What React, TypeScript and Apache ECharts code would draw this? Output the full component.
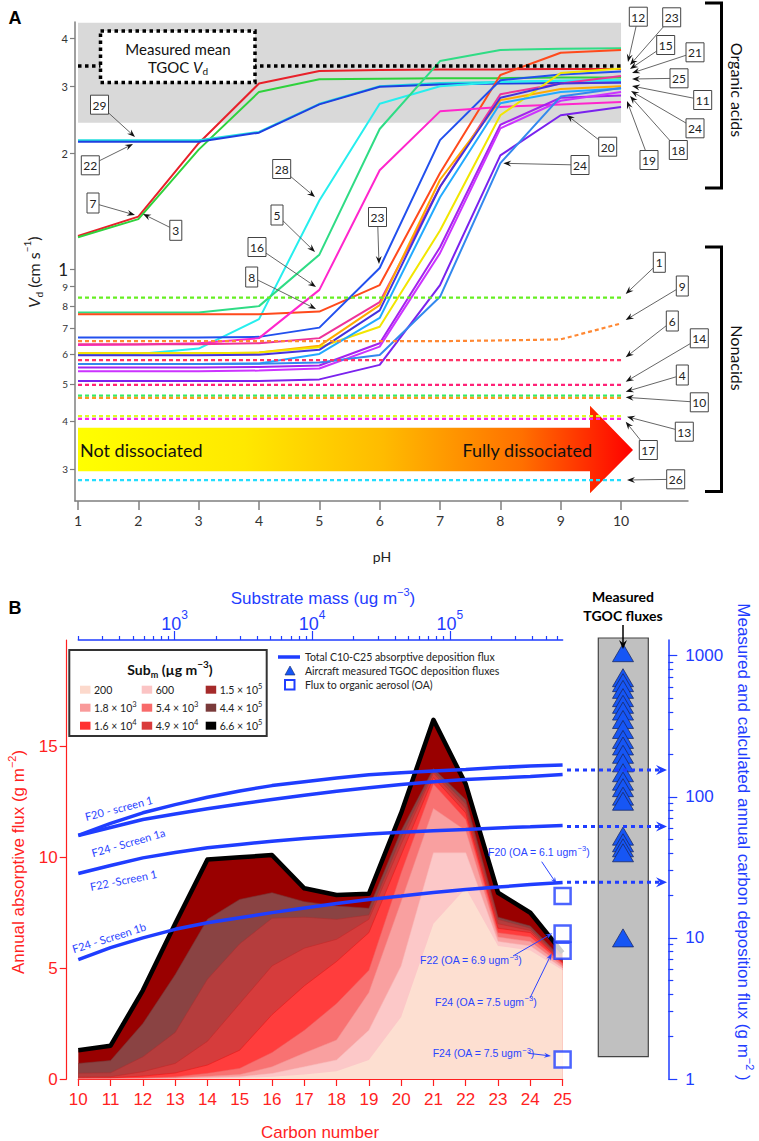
import React, { useEffect, useRef } from "react";
import * as echarts from "echarts";

const L10 = (v: number) => Math.log10(v);

// ================= Panel A data (Vd, cm s-1, at pH 1..10) =================
const pH = [1, 2, 3, 4, 5, 6, 7, 8, 9, 10];
const acid7 = [1.22, 1.37, 2.13, 3.05, 3.29, 3.31, 3.32, 3.32, 3.33, 3.33];
const acid3 = [1.21, 1.35, 2.05, 2.9, 3.13, 3.14, 3.15, 3.15, 3.16, 3.16];
const acid22 = [2.15, 2.15, 2.15, 2.27, 2.69, 2.99, 3.03, 3.05, 3.06, 3.07];
const acid29 = [2.17, 2.17, 2.17, 2.28, 2.7, 3.0, 3.06, 3.08, 3.1, 3.11];
const acid28 = [0.6, 0.6, 0.62, 0.74, 1.51, 2.7, 3.0, 3.08, 3.1, 3.11];
const acid5 = [0.77, 0.77, 0.77, 0.8, 1.09, 2.32, 3.49, 3.73, 3.76, 3.77];
const acid8 = [0.762, 0.762, 0.762, 0.762, 0.774, 0.908, 1.78, 3.21, 3.67, 3.73];
const acid23 = [0.662, 0.662, 0.662, 0.665, 0.703, 1.006, 2.17, 3.11, 3.22, 3.28];
const acid16 = [0.633, 0.635, 0.64, 0.66, 0.882, 1.81, 2.58, 2.65, 2.69, 2.73];
const acid11 = [0.636, 0.636, 0.636, 0.64, 0.66, 0.82, 1.64, 2.86, 3.05, 3.19];
const acid12 = [0.603, 0.603, 0.603, 0.605, 0.63, 0.805, 1.71, 2.76, 2.95, 3.0];
const acid15 = [0.603, 0.603, 0.603, 0.605, 0.625, 0.707, 1.26, 2.52, 3.25, 3.34];
const acid21 = [0.595, 0.595, 0.595, 0.597, 0.615, 0.78, 1.64, 2.8, 3.05, 3.07];
const acid25 = [0.565, 0.565, 0.565, 0.567, 0.6, 0.745, 1.54, 2.71, 2.9, 2.96];
const acid18 = [0.553, 0.553, 0.553, 0.555, 0.56, 0.64, 1.14, 2.38, 2.8, 2.84];
const acid19 = [0.541, 0.541, 0.541, 0.543, 0.55, 0.627, 1.1, 2.33, 2.75, 2.9];
const acid20 = [0.51, 0.51, 0.51, 0.51, 0.515, 0.562, 0.908, 1.98, 2.52, 2.65];
const acid24 = [0.565, 0.565, 0.565, 0.566, 0.57, 0.596, 0.846, 1.89, 2.82, 2.97];

const acidLines = [
  { id: "7", color: "#e8202a", v: acid7 },
  { id: "3", color: "#2fd23c", v: acid3 },
  { id: "29", color: "#22dede", v: acid29 },
  { id: "22", color: "#1f3fe0", v: acid22 },
  { id: "28", color: "#26eeee", v: acid28 },
  { id: "5", color: "#2fdc85", v: acid5 },
  { id: "8", color: "#ff4a1c", v: acid8 },
  { id: "23", color: "#2250ee", v: acid23 },
  { id: "16", color: "#ff26cc", v: acid16 },
  { id: "11", color: "#ee3399", v: acid11 },
  { id: "12", color: "#ffaa00", v: acid12 },
  { id: "15", color: "#f2e600", v: acid15 },
  { id: "21", color: "#4433dd", v: acid21 },
  { id: "25", color: "#22aaff", v: acid25 },
  { id: "18", color: "#a522ee", v: acid18 },
  { id: "19", color: "#cc33ff", v: acid19 },
  { id: "20", color: "#7a22ee", v: acid20 },
  { id: "24", color: "#3388ee", v: acid24 },
];

// Nonacids (dashed); flat levels, except compound 9
const nonacid9 = [0.648, 0.648, 0.648, 0.648, 0.648, 0.648, 0.648, 0.651, 0.655, 0.721];
const nonacidLevels = [
  { id: "1", color: "#66ee22", level: 0.842 },
  { id: "6", color: "#ff3366", level: 0.578 },
  { id: "14", color: "#ff2277", level: 0.498 },
  { id: "4", color: "#33ee66", level: 0.467 },
  { id: "10", color: "#ff9922", level: 0.461 },
  { id: "13", color: "#ddff22", level: 0.413 },
  { id: "17", color: "#ff22ee", level: 0.406 },
  { id: "26", color: "#22ddff", level: 0.281 },
];
const measuredMeanVd = 3.39;
const measuredBandLow = 2.41;
const topYTicks = [0.3, 0.4, 0.5, 0.6, 0.7, 0.8, 0.9, 1, 2, 3, 4];

// ================= Panel B data =================
const carbon = [10, 11, 12, 13, 14, 15, 16, 17, 18, 19, 20, 21, 22, 23, 24, 25];
const sub6_6e5 = [1.3, 1.5, 4.0, 7.0, 9.9, 10.0, 10.1, 8.6, 8.3, 8.35, 12.0, 16.2, 13.3, 8.4, 7.5, 5.7];
const sub4_4e5 = [0.7, 0.83, 2.5, 4.7, 7.2, 8.1, 8.4, 8.0, 7.8, 7.7, 11.2, 14.0, 12.6, 7.3, 6.9, 5.4];
const sub1_5e5 = [0.26, 0.28, 1.0, 2.1, 4.5, 6.1, 7.25, 7.3, 7.2, 7.4, 10.9, 13.9, 12.4, 7.2, 6.8, 5.35];
const sub4_9e4 = [0.08, 0.1, 0.33, 0.7, 1.7, 3.4, 5.1, 5.9, 6.3, 7.2, 10.6, 13.8, 12.2, 7.0, 6.7, 5.3];
const sub1_6e4 = [0.03, 0.05, 0.13, 0.27, 0.63, 1.3, 2.9, 4.2, 5.3, 6.6, 10.1, 13.6, 12.0, 6.8, 6.6, 5.25];
const sub5_4e3 = [0.01, 0.02, 0.05, 0.1, 0.26, 0.48, 1.2, 2.2, 3.4, 4.9, 9.3, 13.3, 11.7, 6.6, 6.4, 5.2];
const sub1_8e3 = [0, 0.01, 0.02, 0.05, 0.12, 0.2, 0.55, 1.17, 1.76, 3.9, 8.0, 12.2, 11.2, 6.4, 6.2, 5.1];
const sub600 = [0, 0, 0.01, 0.02, 0.06, 0.1, 0.25, 0.55, 0.86, 2.2, 5.1, 10.2, 10.2, 6.2, 6.0, 5.0];
const sub200 = [0, 0, 0, 0.01, 0.02, 0.05, 0.1, 0.2, 0.35, 0.86, 2.8, 7.0, 8.6, 6.0, 5.8, 4.9];

// largest first (drawn underneath)
const subSeries = [
  { label: "6.6 × 10", exp: "5", fill: "#990000", swatch: "#000000", line: "#000000", lw: 4.5, v: sub6_6e5 },
  { label: "4.4 × 10", exp: "5", fill: "#8a4343", swatch: "#7a3a3a", line: "#7a3535", lw: 0.6, v: sub4_4e5 },
  { label: "1.5 × 10", exp: "5", fill: "#b53d3d", swatch: "#a52a2a", line: "#a83030", lw: 0.6, v: sub1_5e5 },
  { label: "4.9 × 10", exp: "4", fill: "#d63c3c", swatch: "#d93a3a", line: "#c42828", lw: 0.6, v: sub4_9e4 },
  { label: "1.6 × 10", exp: "4", fill: "#ff3d3d", swatch: "#ff3030", line: "#e81a1a", lw: 0.6, v: sub1_6e4 },
  { label: "5.4 × 10", exp: "3", fill: "#f87272", swatch: "#f86a6a", line: "#f05a5a", lw: 0.5, v: sub5_4e3 },
  { label: "1.8 × 10", exp: "3", fill: "#f9a0a0", swatch: "#f99a9a", line: "#f49090", lw: 0.5, v: sub1_8e3 },
  { label: "600", exp: "", fill: "#fcc8c8", swatch: "#fbc4c4", line: "#f8bcbc", lw: 0.5, v: sub600 },
  { label: "200", exp: "", fill: "#fddfd1", swatch: "#fcd9cc", line: "#fddfd1", lw: 0, v: sub200 },
];

// cumulative absorptive deposition flux (g m-2, right log axis)
const f20Screen1 = [53.2, 64.7, 77, 88, 99.3, 110, 120, 128, 136, 143, 148, 152, 156, 161, 165, 168];
const f24Screen1a = [53.2, 60.6, 69, 75.5, 82.2, 88.9, 95.7, 102.5, 109.6, 115.8, 122, 127.7, 132.6, 136, 139.3, 144];
const f22Screen1 = [28.6, 32.6, 36.9, 40.3, 43.5, 45.9, 48.4, 50.6, 52.6, 54.5, 56.1, 57.4, 58.7, 60.1, 61.3, 62.6];
const f24Screen1b = [7.02, 8.54, 10, 11.5, 12.8, 13.9, 15.1, 16.3, 17.5, 18.7, 19.8, 21, 22, 22.9, 23.9, 24.7];
const fluxLines = [f20Screen1, f24Screen1a, f22Screen1, f24Screen1b];
const fluxArrowLevels = [155, 61.5, 24.8];

// flux to organic aerosol (left axis) at C25
const oaFlux = [8.25, 6.56, 5.78, 0.88];
// aircraft measured TGOC deposition fluxes (right axis)
const tgocFlux = [1050, 698, 644, 577, 504, 452, 405, 353, 300, 255, 229, 200, 174, 148, 129, 116, 101, 93, 52.6, 47.2, 43.5, 40.1, 10];

const massMinor = [200, 300, 400, 500, 600, 700, 800, 900, 2000, 3000, 4000, 5000, 6000, 7000, 8000, 9000,
  20000, 30000, 40000, 50000, 60000, 70000, 80000, 90000, 200000, 300000, 400000, 500000, 600000];
const massMajor = [1000, 10000, 100000];
const rightMinor = [2, 3, 4, 5, 6, 7, 8, 9, 20, 30, 40, 50, 60, 70, 80, 90, 200, 300, 400, 500, 600, 700, 800, 900];
const rightMajor = [1, 10, 100, 1000];

const RED = "#ff1f1f";
const BLUE = "#1f3dff";
const TXTBLUE = "#2a44ff";
const LATO = "Lato, 'Open Sans', sans-serif";
const ARIAL = "'Liberation Sans', Arial, sans-serif";

const topYMin = -0.6057;
const topYMax = 0.6449;
const rightMax = 3.111;

function buildOption(): any {
  const series: any[] = [];
  // ---- Panel A ----
  series.push({
    type: "line", xAxisIndex: 0, yAxisIndex: 0, z: 6, symbol: "none", silent: true,
    data: [[1, L10(measuredMeanVd)], [10, L10(measuredMeanVd)]],
    lineStyle: { color: "#000", width: 3.5, type: [3.5, 3.5] },
  });
  acidLines.forEach((a) => {
    series.push({
      type: "line", xAxisIndex: 0, yAxisIndex: 0, symbol: "none", silent: true, name: a.id,
      data: pH.map((p, i) => [p, L10(a.v[i])]),
      lineStyle: { color: a.color, width: 2 },
    });
  });
  series.push({
    type: "line", xAxisIndex: 0, yAxisIndex: 0, symbol: "none", silent: true,
    data: pH.map((p, i) => [p, L10(nonacid9[i])]),
    lineStyle: { color: "#ff8833", width: 2.2, type: [4, 3] },
  });
  nonacidLevels.forEach((n) => {
    series.push({
      type: "line", xAxisIndex: 0, yAxisIndex: 0, symbol: "none", silent: true,
      data: [[pH[0], L10(n.level)], [pH[pH.length - 1], L10(n.level)]],
      lineStyle: { color: n.color, width: 2.2, type: [4, 3] },
    });
  });
  // ---- Panel B ----
  subSeries.forEach((s) => {
    series.push({
      type: "line", xAxisIndex: 1, yAxisIndex: 1, symbol: "none", silent: true,
      data: carbon.map((c, i) => [c, s.v[i]]),
      lineStyle: { color: s.line, width: s.lw, join: "round" },
      areaStyle: { color: s.fill, opacity: 1 },
    });
  });
  fluxLines.forEach((f) => {
    series.push({
      type: "line", xAxisIndex: 1, yAxisIndex: 2, symbol: "none", silent: true, z: 4,
      data: carbon.map((c, i) => [c, L10(f[i])]),
      lineStyle: { color: BLUE, width: 3.5 },
    });
  });
  series.push({
    type: "scatter", xAxisIndex: 1, yAxisIndex: 1, z: 7, symbol: "rect", symbolSize: 16, silent: true,
    data: oaFlux.map((v) => [25, v]),
    itemStyle: { color: "#ffffff", borderColor: BLUE, borderWidth: 2.5 },
  });
  series.push({
    type: "scatter", xAxisIndex: 4, yAxisIndex: 4, z: 7, symbol: "triangle", symbolSize: [21, 18], silent: true,
    data: tgocFlux.map((v) => [0.5, L10(v)]),
    itemStyle: { color: "#1656f5", borderColor: "#1a2a66", borderWidth: 0.8, opacity: 1 },
  });

  const noSplit = { show: false };
  return {
    animation: false,
    backgroundColor: "#ffffff",
    grid: [
      { left: 75, top: 22, width: 613, height: 479, outerBoundsMode: "none" },
      { left: 78.3, top: 640, width: 484.3, height: 439, outerBoundsMode: "none" },
      { left: 78.3, top: 640, width: 484.3, height: 439, outerBoundsMode: "none" },
      { left: 598, top: 640, width: 50, height: 439, outerBoundsMode: "none" },
    ],
    xAxis: [
      {
        gridIndex: 0, type: "value", min: 0.95, max: 11.11,
        axisLine: { show: true, onZero: false, lineStyle: { color: "#7f7f7f", width: 1.5 } },
        axisTick: { customValues: pH, length: 9, lineStyle: { color: "#7f7f7f", width: 1.5 } },
        axisLabel: { customValues: pH, fontSize: 14, color: "#333", fontFamily: LATO, margin: 12 },
        splitLine: noSplit,
      },
      {
        gridIndex: 1, type: "value", min: 10, max: 25, interval: 1, position: "bottom",
        axisLine: { onZero: false, lineStyle: { color: RED, width: 1.2 } },
        axisTick: { length: 7, lineStyle: { color: RED, width: 1.2 } },
        axisLabel: { color: RED, fontSize: 17, fontFamily: ARIAL, margin: 12 },
        splitLine: noSplit,
      },
      {
        gridIndex: 1, type: "value", position: "top", min: L10(200), max: L10(660000),
        axisLine: { onZero: false, lineStyle: { color: BLUE, width: 1.5 } },
        axisTick: { customValues: massMinor.map(L10), length: 4, lineStyle: { color: BLUE, width: 1.2 } },
        axisLabel: { show: false },
        splitLine: noSplit,
      },
      {
        gridIndex: 2, type: "value", position: "top", min: L10(200), max: L10(660000),
        axisLine: { show: false, onZero: false },
        axisTick: { customValues: massMajor.map(L10), length: 9, lineStyle: { color: BLUE, width: 1.2 } },
        axisLabel: {
          customValues: massMajor.map(L10), margin: 7,
          formatter: (v: number) => `{b|10}{s|${Math.round(v)}}`,
          rich: {
            b: { fontSize: 18, color: BLUE, fontFamily: ARIAL, lineHeight: 24, verticalAlign: "bottom" },
            s: { fontSize: 12, color: BLUE, fontFamily: ARIAL, lineHeight: 12, verticalAlign: "top" },
          },
        },
        splitLine: noSplit,
      },
      { gridIndex: 3, type: "value", min: 0, max: 1, show: false, axisLine: { onZero: false }, splitLine: noSplit },
    ],
    yAxis: [
      {
        gridIndex: 0, type: "value", min: topYMin, max: topYMax,
        axisLine: { show: true, onZero: false, lineStyle: { color: "#7f7f7f", width: 1.5 } },
        axisTick: { show: true, customValues: topYTicks.map(L10), length: 5, lineStyle: { color: "#7f7f7f", width: 1.2 } },
        axisLabel: {
          customValues: topYTicks.map(L10), margin: 7,
          formatter: (v: number) => {
            const t = Math.pow(10, v);
            if (t < 0.95) return `{s|${Math.round(t * 10)}}`;
            if (t < 1.5) return `{b|1}`;
            return `{m|${Math.round(t)}}`;
          },
          rich: {
            s: { fontSize: 10, color: "#333", fontFamily: LATO },
            m: { fontSize: 11, color: "#333", fontFamily: LATO },
            b: { fontSize: 17, color: "#222", fontFamily: LATO },
          },
        },
        splitLine: noSplit,
      },
      {
        gridIndex: 1, type: "value", position: "left", offset: 11.6, min: 0, max: 19.8,
        axisLine: { show: true, onZero: false, lineStyle: { color: RED, width: 1.2 } },
        axisTick: { show: true, customValues: [0, 5, 10, 15], length: 7, lineStyle: { color: RED, width: 1.2 } },
        axisLabel: { customValues: [0, 5, 10, 15], color: RED, fontSize: 17, fontFamily: ARIAL, margin: 9 },
        splitLine: noSplit,
      },
      {
        gridIndex: 1, type: "value", position: "right", offset: 105.7, min: 0, max: rightMax,
        axisLine: { show: true, onZero: false, lineStyle: { color: BLUE, width: 1.5 } },
        axisTick: { show: true, customValues: rightMinor.map(L10), length: 5, lineStyle: { color: BLUE, width: 1.2 } },
        axisLabel: { show: false },
        splitLine: noSplit,
      },
      {
        gridIndex: 2, type: "value", position: "right", offset: 105.7, min: 0, max: rightMax,
        axisLine: { show: false, onZero: false },
        axisTick: { show: true, customValues: rightMajor.map(L10), length: 9, lineStyle: { color: BLUE, width: 1.2 } },
        axisLabel: {
          customValues: rightMajor.map(L10), margin: 17, color: BLUE, fontSize: 17, fontFamily: ARIAL,
          formatter: (v: number) => String(Math.round(Math.pow(10, v))),
        },
        splitLine: noSplit,
      },
      { gridIndex: 3, type: "value", min: 0, max: rightMax, show: false, axisLine: { onZero: false }, splitLine: noSplit },
    ],
    series,
  };
}

function arrow(x1: number, y1: number, x2: number, y2: number, o: any = {}) {
  const dx = x2 - x1, dy = y2 - y1;
  const len = Math.hypot(dx, dy) || 1;
  const ux = dx / len, uy = dy / len;
  const hl = o.head ?? 8, hw = o.hw ?? 3;
  const bx = x2 - ux * hl, by = y2 - uy * hl;
  const z = o.z ?? 60;
  const els: any[] = [
    {
      type: "line", z, silent: true,
      shape: { x1, y1, x2: bx + ux * 3, y2: by + uy * 3 },
      style: { stroke: o.color ?? "#555", lineWidth: o.lw ?? 0.9, lineDash: o.dash ?? null },
    },
    {
      type: "polygon", z, silent: true,
      shape: {
        points: [
          [x2, y2],
          [bx - uy * hw, by + ux * hw],
          [x2 - ux * hl * 0.65, y2 - uy * hl * 0.65],
          [bx + uy * hw, by - ux * hw],
        ],
      },
      style: { fill: o.headColor ?? "#111" },
    },
  ];
  return els;
}

function numBox(t: string, cx: number, cy: number, tx: number, ty: number) {
  const w = t.length > 1 ? 18 : 12;
  const h = t.length > 1 ? 19 : 20;
  const dx = tx - cx, dy = ty - cy;
  const sx = dx === 0 ? Infinity : Math.abs(w / 2 / dx);
  const sy = dy === 0 ? Infinity : Math.abs(h / 2 / dy);
  const s = Math.min(sx, sy);
  const px = cx + dx * s, py = cy + dy * s;
  return [
    {
      type: "rect", z: 61, silent: true,
      shape: { x: cx - w / 2, y: cy - h / 2, width: w, height: h },
      style: { fill: "#fff", stroke: "#444", lineWidth: 1 },
    },
    {
      type: "text", z: 62, silent: true, x: cx, y: cy + 0.5,
      style: { text: t, fontSize: 12, fontFamily: LATO, fill: "#222", align: "center", verticalAlign: "middle" },
    },
    ...arrow(px, py, tx, ty),
  ];
}

function rtext(x: number, y: number, text: string, rich: any, o: any = {}) {
  return {
    type: "text", z: o.z ?? 60, silent: true, x, y, rotation: o.rotation ?? 0,
    style: { text, rich, align: o.align ?? "center", verticalAlign: o.va ?? "middle", fill: o.fill ?? "#222" },
  };
}

function buildGraphics(chart: any) {
  const g: any[] = [];
  // ---------------- Panel A ----------------
  const bandTL = chart.convertToPixel({ xAxisIndex: 0, yAxisIndex: 0 }, [1, topYMax]);
  const bandBR = chart.convertToPixel({ xAxisIndex: 0, yAxisIndex: 0 }, [10, L10(measuredBandLow)]);
  g.push({
    type: "rect", z: 0, silent: true,
    shape: { x: bandTL[0], y: bandTL[1] + 0.8, width: bandBR[0] - bandTL[0], height: bandBR[1] - bandTL[1] - 0.8 },
    style: { fill: "#d9d9d9" },
  });
  // Dissociation arrow
  g.push({
    type: "polygon", z: 1, silent: true,
    shape: { points: [[78, 427.7], [590, 427.7], [590, 405.7], [633, 450], [590, 493.3], [590, 471.3], [78, 471.3]] },
    style: {
      fill: new echarts.graphic.LinearGradient(0, 0, 1, 0, [
        { offset: 0, color: "#ffff00" },
        { offset: 0.3, color: "#ffe800" },
        { offset: 0.55, color: "#ffbb00" },
        { offset: 0.8, color: "#ff7000" },
        { offset: 1, color: "#ff0000" },
      ]),
    },
  });
  g.push({ type: "text", z: 2, silent: true, x: 80, y: 450, style: { text: "Not dissociated", fontSize: 18, fontFamily: LATO, fill: "#111", align: "left", verticalAlign: "middle" } });
  g.push({ type: "text", z: 2, silent: true, x: 592, y: 450, style: { text: "Fully dissociated", fontSize: 18, fontFamily: LATO, fill: "#111", align: "right", verticalAlign: "middle" } });
  // Measured mean box
  g.push({
    type: "rect", z: 50, silent: true,
    shape: { x: 100.5, y: 31, width: 154.5, height: 51.5 },
    style: { fill: "#fff", stroke: "#000", lineWidth: 3.5, lineDash: [3.5, 3.5] },
  });
  g.push({ type: "text", z: 51, silent: true, x: 178, y: 48.5, style: { text: "Measured mean", fontSize: 15, fontFamily: LATO, fill: "#111", align: "center", verticalAlign: "middle" } });
  g.push(rtext(178, 67, "{n|TGOC }{i|V}{d|d}", {
    n: { fontSize: 15, fontFamily: LATO, fill: "#111", lineHeight: 18 },
    i: { fontSize: 15, fontFamily: LATO, fontStyle: "italic", fill: "#111", lineHeight: 18 },
    d: { fontSize: 10, fontFamily: LATO, fill: "#111", lineHeight: 10, verticalAlign: "bottom" },
  }, { z: 51 }));
  // Label boxes
  const labelsA: [string, number, number, number, number][] = [
    ["29", 99.5, 104.7, 135, 137],
    ["22", 90.3, 165.3, 133, 144],
    ["7", 93, 203, 135, 215],
    ["3", 175.8, 230.3, 143, 214],
    ["28", 281.7, 169, 315, 197],
    ["5", 277, 215, 315, 252],
    ["16", 257, 247, 316, 287],
    ["8", 251.7, 277, 316, 309],
    ["23", 377.5, 217, 379, 264],
    ["12", 638.3, 16.7, 628, 62],
    ["23", 671.7, 17.3, 630, 65],
    ["15", 665.7, 45, 630, 69],
    ["21", 695, 52.3, 632, 73],
    ["25", 679, 78.3, 632, 79],
    ["11", 702.7, 100, 632, 86],
    ["24", 695, 128.3, 631, 91],
    ["18", 678.3, 150, 630, 96],
    ["19", 649, 160, 627, 101],
    ["20", 607.7, 146.7, 566.7, 115],
    ["24", 580, 165, 503.3, 163.3],
    ["1", 659.3, 262.3, 625.7, 294],
    ["9", 682.3, 286, 625.7, 320],
    ["6", 672.3, 321, 625.7, 357.3],
    ["14", 699.3, 338.3, 625.7, 381.7],
    ["4", 682.3, 375, 625.7, 391.7],
    ["10", 699.3, 402.3, 625.7, 397.3],
    ["13", 684.3, 431.7, 627, 416.7],
    ["17", 648.3, 450, 625.7, 421.7],
    ["26", 675.7, 479.3, 627, 480],
  ];
  labelsA.forEach((l) => g.push(...numBox(l[0], l[1], l[2], l[3], l[4])));
  // Brackets
  g.push({ type: "polyline", z: 60, silent: true, shape: { points: [[705, 3], [721.5, 3], [721.5, 188], [705, 188]] }, style: { stroke: "#000", lineWidth: 3, fill: null } });
  g.push({ type: "polyline", z: 60, silent: true, shape: { points: [[705, 247], [721.5, 247], [721.5, 491.5], [705, 491.5]] }, style: { stroke: "#000", lineWidth: 3, fill: null } });
  g.push({ type: "text", z: 60, silent: true, x: 737, y: 90, rotation: -Math.PI / 2, style: { text: "Organic acids", fontSize: 16, fontFamily: LATO, fill: "#111", align: "center", verticalAlign: "middle" } });
  g.push({ type: "text", z: 60, silent: true, x: 737, y: 358, rotation: -Math.PI / 2, style: { text: "Nonacids", fontSize: 16, fontFamily: LATO, fill: "#111", align: "center", verticalAlign: "middle" } });
  // Axis titles A
  g.push(rtext(33, 272, "{i|V}{d|d}{n| (cm s}{p|−1}{n|)}", {
    i: { fontSize: 16, fontFamily: LATO, fontStyle: "italic", fill: "#222", lineHeight: 22 },
    d: { fontSize: 10, fontFamily: LATO, fill: "#222", lineHeight: 10, verticalAlign: "bottom" },
    n: { fontSize: 16, fontFamily: LATO, fill: "#222", lineHeight: 22 },
    p: { fontSize: 10, fontFamily: LATO, fill: "#222", lineHeight: 10, verticalAlign: "top" },
  }, { rotation: Math.PI / 2 }));
  g.push({ type: "text", z: 60, silent: true, x: 382, y: 556, style: { text: "pH", fontSize: 14, fontFamily: LATO, fill: "#222", align: "center", verticalAlign: "middle" } });
  g.push({ type: "text", z: 60, silent: true, x: 15, y: 18, style: { text: "A", fontSize: 18, fontWeight: "bold", fontFamily: ARIAL, fill: "#000", align: "center", verticalAlign: "middle" } });

  // ---------------- Panel B ----------------
  g.push({ type: "text", z: 60, silent: true, x: 15, y: 608, style: { text: "B", fontSize: 18, fontWeight: "bold", fontFamily: ARIAL, fill: "#000", align: "center", verticalAlign: "middle" } });
  g.push(rtext(323, 598, "{n|Substrate mass (ug m}{p|−3}{n|)}", {
    n: { fontSize: 17, fontFamily: ARIAL, fill: BLUE, lineHeight: 24 },
    p: { fontSize: 11, fontFamily: ARIAL, fill: BLUE, lineHeight: 11, verticalAlign: "top" },
  }));
  // Measured TGOC column
  g.push({ type: "rect", z: 0, silent: true, shape: { x: 598.3, y: 638, width: 50, height: 418.7 }, style: { fill: "#c0c0c0", stroke: "#444", lineWidth: 1.2 } });
  g.push({ type: "text", z: 60, silent: true, x: 623, y: 596, style: { text: "Measured", fontSize: 14, fontWeight: "bold", fontFamily: LATO, fill: "#000", align: "center", verticalAlign: "middle" } });
  g.push({ type: "text", z: 60, silent: true, x: 623, y: 615, style: { text: "TGOC fluxes", fontSize: 14, fontWeight: "bold", fontFamily: LATO, fill: "#000", align: "center", verticalAlign: "middle" } });
  g.push(...arrow(623, 625, 623, 649, { color: "#000", lw: 1.5, headColor: "#000", head: 9, hw: 4 }));
  // Dotted arrows from line ends to right axis
  fluxArrowLevels.forEach((v) => {
    const y = chart.convertToPixel({ yAxisIndex: 2 }, L10(v));
    g.push(...arrow(567, y, 667, y, { color: BLUE, lw: 3, dash: [4, 4], headColor: BLUE, head: 11, hw: 5, z: 55 }));
  });
  // Legend box for substrate mass
  g.push({ type: "rect", z: 60, silent: true, shape: { x: 69.3, y: 650, width: 197.4, height: 86 }, style: { fill: "#fff", stroke: "#333", lineWidth: 2 } });
  g.push(rtext(170, 669, "{b|Sub}{s|m}{b| (µg m}{p|−3}{b|)}", {
    b: { fontSize: 14, fontWeight: "bold", fontFamily: LATO, fill: "#111", lineHeight: 20 },
    s: { fontSize: 9, fontWeight: "bold", fontFamily: LATO, fill: "#111", lineHeight: 9, verticalAlign: "bottom" },
    p: { fontSize: 10, fontWeight: "bold", fontFamily: LATO, fill: "#111", lineHeight: 10, verticalAlign: "top" },
  }, { z: 61 }));
  const ordered = [...subSeries].reverse(); // 200 ... 6.6e5
  const colX = [80, 141.7, 205.7];
  const rowY = [689.7, 707.7, 725.7];
  ordered.forEach((s, i) => {
    const col = i < 6 ? i % 2 : 2;
    const row = i < 6 ? Math.floor(i / 2) : i - 6;
    const x = colX[col], y = rowY[row];
    g.push({ type: "rect", z: 61, silent: true, shape: { x, y: y - 4, width: 10.5, height: 8 }, style: { fill: s.swatch } });
    const txt = s.exp ? `{n|${s.label}}{p|${s.exp}}` : `{n|${s.label}}`;
    g.push(rtext(x + 14, y, txt, {
      n: { fontSize: 10.5, fontFamily: LATO, fill: "#222", lineHeight: 15 },
      p: { fontSize: 7.5, fontFamily: LATO, fill: "#222", lineHeight: 7, verticalAlign: "top" },
    }, { align: "left", z: 61 }));
  });
  // Second legend
  g.push({ type: "line", z: 60, silent: true, shape: { x1: 278, y1: 657, x2: 300, y2: 657 }, style: { stroke: BLUE, lineWidth: 3.5 } });
  g.push({ type: "polygon", z: 60, silent: true, shape: { points: [[290, 666], [295, 675], [285, 675]] }, style: { fill: "#1656f5", stroke: "#1a2a66", lineWidth: 0.6 } });
  g.push({ type: "rect", z: 60, silent: true, shape: { x: 285, y: 680, width: 9.5, height: 9.5 }, style: { fill: "#fff", stroke: BLUE, lineWidth: 2 } });
  [["Total C10-C25 absorptive deposition flux", 657], ["Aircraft measured TGOC deposition fluxes", 671], ["Flux to organic aerosol (OA)", 685]].forEach((t: any) => {
    g.push({ type: "text", z: 60, silent: true, x: 305, y: t[1], style: { text: t[0], fontSize: 10.5, fontFamily: LATO, fill: "#222", align: "left", verticalAlign: "middle" } });
  });
  // Line labels
  const lineLabels: [string, number, number, number][] = [
    ["F20 - screen 1", 118.8, 808, 14.3],
    ["F24 - Screen 1a", 128.3, 842.5, 16],
    ["F22 -Screen 1", 123.3, 880, 11.3],
    ["F24 - Screen 1b", 109, 937.5, 17.5],
  ];
  lineLabels.forEach((l) => {
    g.push({ type: "text", z: 60, silent: true, x: l[1], y: l[2], rotation: (l[3] * Math.PI) / 180, style: { text: l[0], fontSize: 11, fontFamily: LATO, fill: TXTBLUE, align: "center", verticalAlign: "middle" } });
  });
  // OA labels
  const oaRich = {
    n: { fontSize: 10.5, fontFamily: ARIAL, fill: TXTBLUE, lineHeight: 14 },
    p: { fontSize: 7.5, fontFamily: ARIAL, fill: TXTBLUE, lineHeight: 7, verticalAlign: "top" },
  };
  const oaLabels: [string, number, number, number, number, number, number][] = [
    ["F20 (OA = 6.1 ugm", 488, 851.7, 541.7, 861.7, 556.7, 884],
    ["F22 (OA = 6.9 ugm", 420, 960, 513, 956, 552.3, 933.3],
    ["F24 (OA = 7.5 ugm", 435, 1001.7, 530, 998, 551.7, 953.3],
    ["F24 (OA = 7.5 ugm", 432.7, 1053.3, 528.3, 1053.3, 551, 1056],
  ];
  oaLabels.forEach((l) => {
    g.push(rtext(l[1], l[2], `{n|${l[0]}}{p|−3}{n|)}`, oaRich, { align: "left" }));
    g.push(...arrow(l[3], l[4], l[5], l[6], { color: TXTBLUE, lw: 1, headColor: TXTBLUE, head: 7, hw: 2.5 }));
  });
  // Axis titles B
  g.push(rtext(18, 862, "{n|Annual absorptive flux (g m}{p|−2}{n|)}", {
    n: { fontSize: 17, fontFamily: ARIAL, fill: RED, lineHeight: 24 },
    p: { fontSize: 11, fontFamily: ARIAL, fill: RED, lineHeight: 11, verticalAlign: "top" },
  }, { rotation: Math.PI / 2 }));
  g.push(rtext(743, 842, "{n|Measured and calculated annual carbon deposition flux (g m}{p|−2}{n| )}", {
    n: { fontSize: 17, fontFamily: ARIAL, fill: BLUE, lineHeight: 24 },
    p: { fontSize: 11, fontFamily: ARIAL, fill: BLUE, lineHeight: 11, verticalAlign: "top" },
  }, { rotation: -Math.PI / 2 }));
  g.push({ type: "text", z: 60, silent: true, x: 320, y: 1132, style: { text: "Carbon number", fontSize: 17, fontFamily: ARIAL, fill: RED, align: "center", verticalAlign: "middle" } });
  return g;
}

export default function App() {
  const ref = useRef<HTMLDivElement>(null);
  useEffect(() => {
    if (!ref.current) return;
    const chart = echarts.init(ref.current, null, { renderer: "svg" });
    chart.setOption(buildOption());
    chart.setOption({ graphic: { elements: buildGraphics(chart) } });
    return () => chart.dispose();
  }, []);
  return (
    <div
      ref={ref}
      style={{ position: "absolute", left: 0, top: 0, width: 759, height: 1141, background: "#fff" }}
    />
  );
}
